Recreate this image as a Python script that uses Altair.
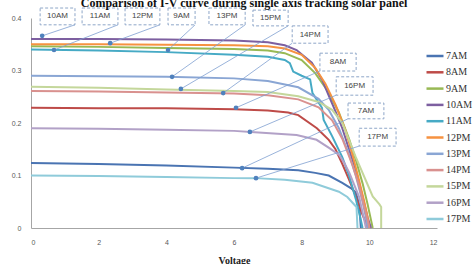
import altair as alt
import pandas as pd

series = ["7AM", "8AM", "9AM", "10AM", "11AM", "12PM", "13PM", "14PM", "15PM", "16PM", "17PM"]
colors = ["#4A74B2", "#BE4B48", "#98B954", "#7D5FA0", "#46AAC5", "#F69240",
          "#8AA6D4", "#D9918F", "#C4D79B", "#B2A1C7", "#8FCBDA"]

# Voltage (V) / Current (A) readings for each curve
v_7am = [0, 2, 4, 6, 7, 7.9, 8.4, 8.8, 9.2, 9.45, 9.6, 9.7, 9.75]
i_7am = [0.124, 0.122, 0.119, 0.115, 0.113, 0.110, 0.105, 0.100, 0.086, 0.076, 0.068, 0.045, 0.0]
v_8am = [0, 2, 4, 6, 7, 7.6, 7.9, 8.45, 8.8, 9.0, 9.2, 9.4, 9.6, 9.8, 9.9, 9.95]
i_8am = [0.229, 0.228, 0.228, 0.226, 0.224, 0.220, 0.215, 0.190, 0.168, 0.150, 0.122, 0.092, 0.060, 0.025, 0.010, 0.0]
v_9am = [0, 2, 4, 6, 7, 7.5, 8.0, 8.4, 8.8, 9.1, 9.4, 9.6, 9.8, 9.95, 10.05, 10.1]
i_9am = [0.346, 0.345, 0.343, 0.341, 0.338, 0.333, 0.320, 0.295, 0.258, 0.220, 0.170, 0.130, 0.085, 0.045, 0.015, 0.0]
v_10am = [0, 2, 4, 6, 7, 7.5, 7.85, 8.3, 8.6, 8.8, 9.0, 9.2, 9.4, 9.6, 9.8, 9.95, 10.05]
i_10am = [0.360, 0.360, 0.359, 0.357, 0.354, 0.348, 0.339, 0.315, 0.283, 0.252, 0.222, 0.190, 0.150, 0.110, 0.060, 0.020, 0.0]
v_11am = [0, 2, 4, 6, 7, 7.5, 7.65, 7.75, 8.0, 8.25, 8.32, 8.45, 8.6, 8.65, 8.9, 9.2, 9.4, 9.6, 9.75, 9.8]
i_11am = [0.340, 0.338, 0.335, 0.330, 0.326, 0.320, 0.314, 0.298, 0.290, 0.283, 0.257, 0.244, 0.229, 0.206, 0.175, 0.135, 0.100, 0.055, 0.015, 0.0]
v_12pm = [0, 2, 4, 6, 7, 7.5, 8.0, 8.4, 8.7, 9.0, 9.3, 9.5, 9.7, 9.85, 9.95, 10.0]
i_12pm = [0.350, 0.350, 0.349, 0.348, 0.346, 0.342, 0.330, 0.305, 0.275, 0.235, 0.185, 0.140, 0.090, 0.050, 0.020, 0.0]
v_13pm = [0, 2, 4, 6, 7, 7.9, 8.5, 8.8, 9.1, 9.4, 9.6, 9.8, 9.9, 9.95]
i_13pm = [0.290, 0.289, 0.288, 0.285, 0.280, 0.268, 0.246, 0.225, 0.190, 0.140, 0.100, 0.050, 0.020, 0.0]
v_14pm = [0, 2, 4, 6, 7, 7.9, 8.5, 8.9, 9.2, 9.5, 9.7, 9.85, 9.95, 10.0]
i_14pm = [0.261, 0.260, 0.258, 0.256, 0.253, 0.245, 0.230, 0.205, 0.170, 0.120, 0.080, 0.040, 0.015, 0.0]
v_15pm = [0, 2, 4, 6, 7, 7.9, 8.5, 8.9, 9.2, 9.6, 9.9, 10.1, 10.3, 10.35, 10.35]
i_15pm = [0.269, 0.267, 0.264, 0.261, 0.259, 0.251, 0.240, 0.225, 0.200, 0.135, 0.090, 0.060, 0.045, 0.040, 0.0]
v_16pm = [0, 2, 4, 6, 6.5, 7.85, 8.44, 8.82, 9.11, 9.26, 9.41, 9.7, 9.85, 9.9]
i_16pm = [0.190, 0.189, 0.187, 0.185, 0.183, 0.177, 0.168, 0.152, 0.139, 0.124, 0.105, 0.059, 0.015, 0.0]
v_17pm = [0, 2, 4, 6, 6.64, 7.5, 8.32, 9.1, 9.35, 9.62, 9.65]
i_17pm = [0.100, 0.099, 0.097, 0.095, 0.095, 0.092, 0.086, 0.069, 0.059, 0.040, 0.0]

curve_v = [v_7am, v_8am, v_9am, v_10am, v_11am, v_12pm, v_13pm, v_14pm, v_15pm, v_16pm, v_17pm]
curve_i = [i_7am, i_8am, i_9am, i_10am, i_11am, i_12pm, i_13pm, i_14pm, i_15pm, i_16pm, i_17pm]

# Annotation callouts
ann_labels = ["10AM", "11AM", "12PM", "9AM", "13PM", "15PM", "14PM", "8AM", "16PM", "7AM", "17PM"]
dot_v = [0.33, 0.68, 2.34, 4.05, 4.17, 4.43, 5.68, 6.06, 6.47, 6.24, 6.65]
dot_i = [0.366, 0.339, 0.352, 0.339, 0.288, 0.265, 0.257, 0.229, 0.183, 0.114, 0.095]
end_v = [1.30, 2.57, 3.81, 4.85, 6.33, 7.60, 7.72, 8.54, 9.02, 9.37, 9.70]
end_i = [0.387, 0.387, 0.387, 0.387, 0.387, 0.385, 0.352, 0.299, 0.253, 0.208, 0.156]
box_v1 = [0.27, 1.51, 2.78, 4.05, 5.26, 6.56, 7.72, 8.54, 9.02, 9.37, 9.70]
box_v2 = [1.30, 2.57, 3.81, 4.85, 6.33, 7.60, 8.78, 9.61, 10.11, 10.43, 10.79]
box_i1 = [0.419, 0.419, 0.419, 0.419, 0.419, 0.415, 0.385, 0.333, 0.288, 0.238, 0.190]
box_i2 = [0.387, 0.387, 0.387, 0.387, 0.387, 0.385, 0.352, 0.299, 0.253, 0.208, 0.156]

x_ticks = [0, 2, 4, 6, 8, 10, 12]
y_ticks = [0, 0.05, 0.1, 0.15, 0.2, 0.25, 0.3, 0.35, 0.4]

rows = []
for name, vs, cs in zip(series, curve_v, curve_i):
    for k, (v, c) in enumerate(zip(vs, cs)):
        rows.append({"series": name, "V": v, "I": c, "idx": k})
df = pd.DataFrame(rows)

ann = pd.DataFrame({
    "label": ann_labels, "dv": dot_v, "di": dot_i, "ev": end_v, "ei": end_i,
    "bv1": box_v1, "bv2": box_v2, "bi1": box_i1, "bi2": box_i2,
})
ann["tv"] = (ann["bv1"] + ann["bv2"]) / 2
ann["ti"] = (ann["bi1"] + ann["bi2"]) / 2

xs = alt.Scale(domain=[0, 12], nice=False)
ys = alt.Scale(domain=[0, 0.4], nice=False)

lines = alt.Chart(df).mark_line(strokeWidth=2).encode(
    x=alt.X("V:Q", scale=xs, title="Voltage",
            axis=alt.Axis(values=x_ticks, ticks=False, grid=False, domainColor="#A6A6A6",
                          labelFont="Liberation Sans", labelFontSize=7, labelColor="#595959",
                          labelPadding=10, titleFont="Liberation Serif", titleFontSize=10,
                          titleFontWeight="bold", titleColor="#222", titlePadding=10)),
    y=alt.Y("I:Q", scale=ys, title=None,
            axis=alt.Axis(values=y_ticks, format=".2~f", ticks=False, grid=False,
                          domainColor="#A6A6A6", labelFont="Liberation Sans", labelFontSize=7,
                          labelColor="#595959", labelPadding=10)),
    color=alt.Color("series:N", scale=alt.Scale(domain=series, range=colors),
                    legend=alt.Legend(title=None, orient="none", legendX=394, legendY=28,
                                      symbolType="stroke", symbolSize=289, symbolStrokeWidth=2.5,
                                      labelFont="Liberation Serif", labelFontSize=10,
                                      labelColor="#333", rowPadding=1.3, labelOffset=1, padding=0)),
    detail="series:N",
    order="idx:Q",
)

leaders = alt.Chart(ann).mark_rule(color="#7F9FD0", strokeWidth=0.8).encode(
    x=alt.X("dv:Q", scale=xs), y=alt.Y("di:Q", scale=ys), x2="ev:Q", y2="ei:Q"
)
dots = alt.Chart(ann).mark_point(filled=True, size=22, color="#4F81BD", opacity=1).encode(
    x=alt.X("dv:Q", scale=xs), y=alt.Y("di:Q", scale=ys)
)
boxes = alt.Chart(ann).mark_rect(fillOpacity=0, stroke="#8EA6C8", strokeWidth=1,
                                 strokeDash=[3, 2]).encode(
    x=alt.X("bv1:Q", scale=xs), x2="bv2:Q", y=alt.Y("bi1:Q", scale=ys), y2="bi2:Q"
)
texts = alt.Chart(ann).mark_text(font="Liberation Sans", fontSize=8, color="#444",
                                 baseline="middle", align="center").encode(
    x=alt.X("tv:Q", scale=xs), y=alt.Y("ti:Q", scale=ys), text="label:N"
)
title = alt.Chart(pd.DataFrame({"t": ["Comparison of I-V curve during single axis tracking solar panel"]})).mark_text(
    font="Liberation Serif", fontSize=12, fontWeight="bold", color="#111",
    align="center", baseline="alphabetic"
).encode(x=alt.value(213), y=alt.value(-11), text="t:N")

chart = alt.layer(lines, leaders, dots, boxes, texts, title).properties(
    width=406, height=210,
    padding={"left": 31, "top": 18, "right": 37, "bottom": 36},
    autosize=alt.AutoSizeParams(type="none"),
).configure_view(stroke=None)

chart.save("out.html", embed_options={"renderer": "svg", "actions": False})
